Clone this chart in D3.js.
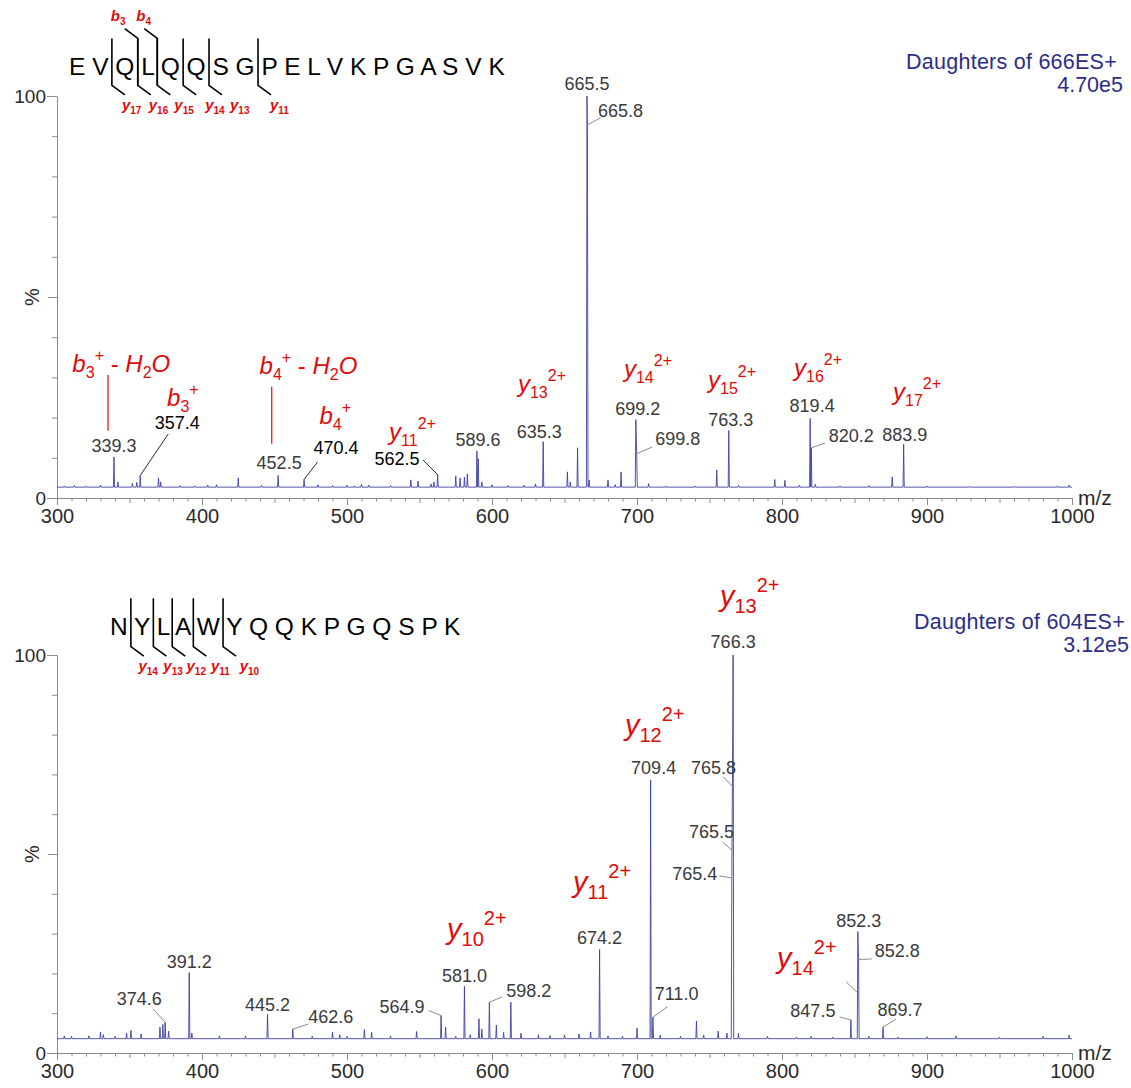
<!DOCTYPE html>
<html><head><meta charset="utf-8">
<script src="https://cdn.jsdelivr.net/npm/d3@7"></script>
<style>body{margin:0;background:#fff}svg text{white-space:pre}</style>
</head><body>
<svg id="chart" width="1131" height="1088"></svg>
<script>
// ---------------- DATA ----------------
const mzTicks = [300, 400, 500, 600, 700, 800, 900, 1000];
const pctTicks = [0, 100];
const mzDomain = [300, 1000];

const topSequence = "EVQLQQSGPELVKPGASVK";
const topYCleavage = [2, 3, 4, 5, 6, 8];
const topBCleavage = [3, 4];
const bottomSequence = "NYLAWYQQKPGQSPK";
const bottomYCleavage = [1, 2, 3, 4, 5];
const bottomBCleavage = [];

const topTitle = "Daughters of 666ES+";
const topIntensity = "4.70e5";
const bottomTitle = "Daughters of 604ES+";
const bottomIntensity = "3.12e5";

const topBaseline = 2.7;
const bottomBaseline = 3.6;

// [m/z, relative intensity %]
const topPeaks = [[305,3.0],[312,3.1],[320,3.0],[330,3.2],[339.3,10.2],[342,4.0],[352,3.6],[355,3.9],[357.4,5.6],
 [370,5.0],[371.5,4.0],[385,3.1],[395,3.0],[404,3.2],[410,3.3],[425,5.0],[441,3.1],[452.5,5.6],[470.4,4.6],
 [480,3.3],[490,3.1],[500,3.2],[505,3.0],[510,3.4],[515,3.2],[530,3.1],[544,4.5],[549,4.2],[558,3.5],[560,4.0],
 [562.5,5.8],[575,5.5],[578,5.0],[581,5.2],[583,6.0],[589.6,11.7],[590.5,9.75],[593,4.0],[600,3.3],[611,3.1],
 [622,3.2],[630,3.5],[635.3,14],[652,6.5],[654,4.0],[659,12.5],[665.5,100],[665.8,92.8],[667,4.5],[680,4.5],
 [685,3.3],[689,6.5],[699.2,19.5],[699.8,11],[708,3.6],[720,3.0],[740,3.0],[755,7],[763.3,16.8],[770,3.1],
 [795,4.6],[802,4.4],[812,3.2],[819.4,19.8],[820.2,12.5],[823,3.4],[840,3.0],[860,3.1],[876,5.2],[883.9,13.4],
 [900,3.0],[930,2.9],[960,2.9],[990,3.0],[998,3.2]];
const topLabelled = [339.3, 357.4, 452.5, 470.4, 562.5, 589.6, 635.3, 665.5, 665.8, 699.2, 699.8, 763.3, 819.4, 820.2, 883.9];

const bottomPeaks = [[305,4.3],[310,4.2],[322,4.3],[330,5.3],[332,4.6],[340,4.2],[348,5.0],[351,5.7],[358,4.8],
 [371,6.5],[373,7.2],[374.6,7.75],[377,5.5],[391.2,20.2],[393,5.0],[412,4.3],[430,4.3],[445.2,9.7],[462.6,6.0],
 [476,4.2],[490,5.3],[495,4.6],[500,4.2],[512,5.9],[517,5.2],[530,4.3],[548,5.4],[564.9,9.4],[568,6.5],[575,4.2],
 [581.0,16.75],[585,4.6],[591,8.6],[593,6.0],[598.2,12.75],[603,7.0],[608,5.2],[613,12.75],[620,5.0],[632,4.6],
 [640,4.4],[650,4.5],[660,4.8],[668,5.3],[674.2,26],[680,4.3],[690,4.2],[700,6.3],[709.4,68.6],[711.0,9.0],
 [716,4.5],[730,4.2],[741,8.0],[746,4.5],[756,5.5],[762,5.0],[765.4,44],[765.5,51],[765.8,67],[766.3,100],
 [770,5.0],[790,4.2],[810,4.0],[820,4.2],[835,4.0],[847.5,8.3],[852.3,30.5],[852.8,23.5],[860,4.2],[869.7,6.5],
 [880,4.0],[900,4.1],[920,4.3],[950,4.0],[980,4.2],[998,4.5]];
const bottomLabelled = [374.6, 391.2, 445.2, 462.6, 564.9, 581.0, 598.2, 674.2, 709.4, 711.0, 765.4, 765.5, 765.8, 766.3, 847.5, 852.3, 852.8, 869.7];

// assigned fragment ions
const topIons = [
  {ion:"b", n:3, z:"+", loss:"H2O", peak:339.3},
  {ion:"b", n:3, z:"+", peak:357.4},
  {ion:"b", n:4, z:"+", loss:"H2O", peak:452.5},
  {ion:"b", n:4, z:"+", peak:470.4},
  {ion:"y", n:11, z:"2+", peak:562.5},
  {ion:"y", n:13, z:"2+", peak:635.3},
  {ion:"y", n:14, z:"2+", peak:699.2},
  {ion:"y", n:15, z:"2+", peak:763.3},
  {ion:"y", n:16, z:"2+", peak:819.4},
  {ion:"y", n:17, z:"2+", peak:883.9}];
const bottomIons = [
  {ion:"y", n:10, z:"2+", peak:581.0},
  {ion:"y", n:11, z:"2+", peak:674.2},
  {ion:"y", n:12, z:"2+", peak:709.4},
  {ion:"y", n:13, z:"2+", peak:766.3},
  {ion:"y", n:14, z:"2+", peak:852.3}];

// ---------------- LAYOUT / STYLE ----------------
const FONT = "'Liberation Sans', Arial, Helvetica, sans-serif";
const RED = "#e10a0a";
const NAVY = "#2b2d88";
const svg = d3.select("#chart");

const topLabelLayout = {
  339.3:{dy:-5}, 357.4:{dx:37, dy:-46.5, lead:[-9,5], dark:true}, 452.5:{dx:1, dy:-6.5},
  470.4:{dx:32, dy:-25.5, lead:[-18.5,8], dark:true}, 562.5:{dx:-40.6, dy:-9.7, lead:[26,-5], dark:true},
  589.6:{dx:1, dy:-4.5}, 635.3:{dx:-4, dy:-4}, 665.5:{dy:-6}, 665.8:{dx:33, dy:-8, lead:[-20,1]},
  699.2:{dx:2, dy:-5}, 699.8:{dx:41, dy:-8.8, lead:[-25.5,2]}, 763.3:{dx:2, dy:-4.5}, 819.4:{dx:2, dy:-6.4},
  820.2:{dx:40, dy:-5.75, lead:[-26,1]}, 883.9:{dx:1, dy:-3}};
const bottomLabelLayout = {
  374.6:{dx:-26, dy:-17, lead:[14,4]}, 391.2:{dy:-4.6}, 445.2:{dy:-3}, 462.6:{dx:38, dy:-6, lead:[-22.6,1]},
  564.9:{dx:-39, dy:-2.6, lead:[26.7,-2.5]}, 581.0:{dy:-4.6}, 598.2:{dx:39.4, dy:-5.7, lead:[-26.8,0.4]},
  674.2:{dy:-5.5}, 709.4:{dx:3, dy:-6}, 711.0:{dx:23.6, dy:-17, lead:[-9,6.6]},
  765.4:{dx:-37, dy:2, lead:[24.6,-4]}, 765.5:{dx:-20.5, dy:-12, lead:[11,4]}, 765.8:{dx:-19, dy:-12.3, lead:[9.7,2.7]},
  766.3:{dy:-7}, 847.5:{dx:-38, dy:-3, lead:[26.7,0]}, 852.3:{dx:1, dy:-4.6},
  852.8:{dx:38.6, dy:-2.5, lead:[-25.4,2]}, 869.7:{dx:17, dy:-11, lead:[-4,3]}};

// ion annotation anchor (left edge in m/z units, baseline in % units)
const topIonPos = [[310.6,31.3],[375.9,23],[439.7,30.9],[481,18.4],[529,14.4],[617.9,26.4],[691,30.1],[749,27.4],[808.3,30.3],[876.6,24.4]];
const topIonLines = [{mz:335.2, from:30.6, to:16.7}, null, {mz:448.1, from:27.7, to:13.5}];
const bottomIonPos = [[569,28.6],[655.9,40.5],[691.7,80],[757.2,112.3],[796.6,21.4]];

const panels = [
  {peaks:topPeaks, base:topBaseline, labelled:topLabelled, layout:topLabelLayout, ions:topIons, ionPos:topIonPos,
   ionLines:topIonLines, F:24, f:16, sub:6, sup:-11, y0:498, y100:96,
   seq:topSequence, yCl:topYCleavage, bCl:topBCleavage, seqX:69, seqY:75, brTop:38.4, brBot:85.3, yLab:110,
   yLabOff:[10, 11, 17, 22, 21, 12], bLabOff:[-27, -21],
   title:topTitle, inten:topIntensity, titleX:1117, titleY:69, intenX:1123, intenY:92, extraLeads:[]},
  {peaks:bottomPeaks, base:bottomBaseline, labelled:bottomLabelled, layout:bottomLabelLayout, ions:bottomIons, ionPos:bottomIonPos,
   ionLines:[], F:29, f:20, sub:7, sup:-14, y0:1053, y100:655,
   seq:bottomSequence, yCl:bottomYCleavage, bCl:bottomBCleavage, seqX:110, seqY:635, brTop:598.3, brBot:646.7, yLab:671,
   yLabOff:[7.6, 10, 14.3, 17.7, 16.6], bLabOff:[],
   title:bottomTitle, inten:bottomIntensity, titleX:1125, titleY:629, intenX:1129, intenY:652,
   extraLeads:[{mz:852.5, pct:15, from:[-12,-11.4]}]}
];

function profile(peaks, base, w) {
  const pk = peaks.map(p => ({m:p[0], v:p[1]})).sort((a,b) => a.m - b.m);
  const pts = [{m:mzDomain[0], v:base}];
  pk.forEach((p, i) => {
    const prev = pk[i-1], next = pk[i+1];
    if (!prev || p.m - prev.m >= 2*w) pts.push({m:p.m - w, v:base});
    pts.push(p);
    if (!next || next.m - p.m >= 2*w) pts.push({m:p.m + w, v:base});
  });
  pts.push({m:mzDomain[1], v:base});
  return pts;
}

function ionParts(d) {
  const parts = [{t:d.ion, k:"main", it:true}, {t:String(d.n), k:"sub"}, {t:d.z, k:"sup"}];
  if (d.loss) {
    parts.push({t:"\u00a0-\u00a0", k:"main"});
    parts.push({t:d.loss[0], k:"main", it:true});
    parts.push({t:d.loss[1], k:"sub"});
    parts.push({t:d.loss[2], k:"main", it:true});
  }
  return parts;
}

function drawRich(g, px, py, parts, F, f, subS, supS, color, weight) {
  const t = g.append("text").attr("x", px).attr("y", py).attr("fill", color)
    .style("font-family", FONT).style("font-weight", weight || "normal");
  let cur = 0;
  parts.forEach(p => {
    const target = p.k === "sub" ? subS : p.k === "sup" ? supS : 0;
    t.append("tspan").attr("dy", target - cur)
      .style("font-size", (p.k === "main" ? F : f) + "px")
      .style("font-style", p.it ? "italic" : "normal").text(p.t);
    cur = target;
  });
  return t;
}

panels.forEach(P => {
  const g = svg.append("g");
  const x = d3.scaleLinear().domain(mzDomain).range([57, 1072]);
  const y = d3.scaleLinear().domain([0, 100]).range([P.y0, P.y100]);

  // axes
  const axG = g.append("g").attr("transform", `translate(0,${P.y0})`);
  axG.call(d3.axisBottom(x).tickValues(d3.range(300, 1001, 10).filter(v => v % 50)).tickSize(3.5).tickSizeOuter(0).tickFormat(""));
  axG.append("g").call(d3.axisBottom(x).tickValues(d3.range(350, 1000, 100)).tickSize(5).tickSizeOuter(0).tickFormat(""))
    .select(".domain").remove();
  const maj = axG.append("g").call(d3.axisBottom(x).tickValues(mzTicks).tickSize(7).tickSizeOuter(0).tickPadding(4).tickFormat(d3.format("d")));
  maj.select(".domain").remove();
  maj.selectAll("text").style("font-size", "20px");
  axG.selectAll("line,path").attr("stroke", "#8c8c8c");
  axG.selectAll("text").style("font-family", FONT).attr("fill", "#2a2a2a");

  const ayG = g.append("g").attr("transform", "translate(57,0)");
  ayG.call(d3.axisLeft(y).tickValues(d3.range(10, 100, 10).filter(v => v !== 50)).tickSize(5).tickSizeOuter(0).tickFormat(""));
  ayG.append("g").call(d3.axisLeft(y).tickValues([50]).tickSize(9).tickFormat("")).select(".domain").remove();
  const yl = ayG.append("g").call(d3.axisLeft(y).tickValues(pctTicks).tickSize(10).tickPadding(1).tickFormat(d3.format("d")));
  yl.select(".domain").remove();
  yl.selectAll("text").style("font-size", "19px");
  ayG.selectAll("line,path").attr("stroke", "#8c8c8c");
  ayG.selectAll("text").style("font-family", FONT).attr("fill", "#2a2a2a");

  g.append("text").attr("x", 1078).attr("y", P.y0 + 7).text("m/z")
    .style("font-family", FONT).style("font-size", "21px").attr("fill", "#2a2a2a");
  g.append("text").attr("transform", `translate(39,${y(50)}) rotate(-90)`).attr("text-anchor", "middle")
    .text("%").style("font-family", FONT).style("font-size", "20px").attr("fill", "#2a2a2a");

  // spectrum
  const pts = profile(P.peaks, P.base, 0.4);
  g.append("path").datum(pts)
    .attr("d", d3.line().x(d => x(d.m)).y(d => y(d.v)))
    .attr("fill", "none").attr("stroke", "#3c3fa0").attr("stroke-width", 1).attr("stroke-opacity", 0.88)
    .attr("stroke-linejoin", "round");

  // peak labels
  const intOf = m => P.peaks.find(p => p[0] === m)[1];
  P.labelled.forEach(m => {
    const L = P.layout[m] || {};
    const px = x(m), py = y(intOf(m));
    const lx = px + (L.dx || 0), ly = py + (L.dy === undefined ? -5 : L.dy);
    if (L.lead) {
      g.append("line").attr("x1", lx + L.lead[0]).attr("y1", ly + L.lead[1]).attr("x2", px).attr("y2", py)
        .attr("stroke", L.dark ? "#111" : "#8a8a8a").attr("stroke-width", L.dark ? 0.9 : 1);
    }
    g.append("text").attr("x", lx).attr("y", ly).attr("text-anchor", "middle").text(m.toFixed(1))
      .style("font-family", FONT).style("font-size", "18px").attr("fill", L.dark ? "#000" : "#3a3a3a");
  });
  P.extraLeads.forEach(e => {
    const px = x(e.mz), py = y(e.pct);
    g.append("line").attr("x1", px + e.from[0]).attr("y1", py + e.from[1]).attr("x2", px).attr("y2", py)
      .attr("stroke", "#8a8a8a").attr("stroke-width", 1);
  });

  // ion annotations
  P.ions.forEach((d, i) => {
    const pos = P.ionPos[i];
    drawRich(g, x(pos[0]), y(pos[1]), ionParts(d), P.F, P.f, P.sub, P.sup, RED);
    const ln = P.ionLines[i];
    if (ln) g.append("line").attr("x1", x(ln.mz)).attr("x2", x(ln.mz)).attr("y1", y(ln.from)).attr("y2", y(ln.to))
      .attr("stroke", RED).attr("stroke-width", 1.2);
  });

  // header
  g.append("text").attr("x", P.titleX).attr("y", P.titleY).attr("text-anchor", "end").text(P.title)
    .style("font-family", FONT).style("font-size", "21.5px").style("letter-spacing", "0.25px").attr("fill", NAVY);
  g.append("text").attr("x", P.intenX).attr("y", P.intenY).attr("text-anchor", "end").text(P.inten)
    .style("font-family", FONT).style("font-size", "21.5px").attr("fill", NAVY);

  // sequence with fragmentation brackets
  const seqT = g.append("text").attr("x", P.seqX).attr("y", P.seqY).text(P.seq.split("").join(" "))
    .style("font-family", FONT).style("font-size", "24.5px").attr("fill", "#000");
  const node = seqT.node();
  const gapX = k => {
    const s = node.getStartPositionOfChar(2*k - 1).x, e = node.getEndPositionOfChar(2*k - 1).x;
    return (s + e) / 2;
  };
  const n = P.seq.length;
  P.yCl.forEach((k, i) => {
    const vx = gapX(k);
    g.append("path").attr("d", `M${vx},${P.brTop}L${vx},${P.brBot}L${vx+13},${P.brBot+9.5}`)
      .attr("fill", "none").attr("stroke", "#000").attr("stroke-width", 1.6);
    drawRich(g, vx + P.yLabOff[i], P.yLab, [{t:"y", k:"main", it:true}, {t:String(n - k), k:"sub"}], 15, 10, 3.5, 0, RED, "bold");
  });
  P.bCl.forEach((k, i) => {
    const vx = gapX(k);
    g.append("path").attr("d", `M${vx-13},${P.brTop-9.7}L${vx},${P.brTop}L${vx},${P.brBot}`)
      .attr("fill", "none").attr("stroke", "#000").attr("stroke-width", 1.6);
    drawRich(g, vx + P.bLabOff[i], P.brTop - 17, [{t:"b", k:"main", it:true}, {t:String(k), k:"sub"}], 15, 10, 3.5, 0, RED, "bold");
  });
});
</script>
</body></html>
